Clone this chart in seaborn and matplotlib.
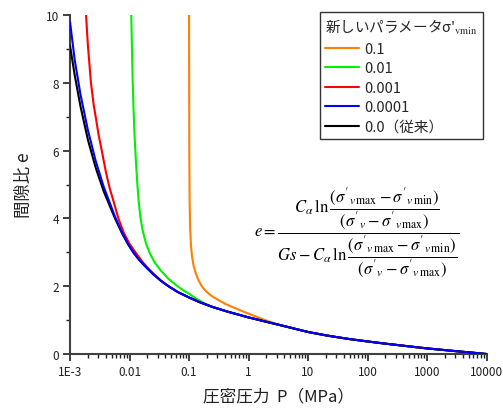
import numpy as np
import pandas as pd
import matplotlib
matplotlib.use("Agg")
import matplotlib.pyplot as plt
import matplotlib.ticker as mticker
import seaborn as sns

# ---- data ----
series_labels = ["0.1", "0.01", "0.001", "0.0001", "0.0（従来）"]
series_colors = ["#FF8000", "#00F000", "#FF0000", "#0000FF", "#000000"]

# shared tail (all curves coincide here)
p_tail = [5, 10, 20, 30, 50, 100, 200, 300, 500, 1000, 2000, 3000, 5000, 10000]
e_tail = [0.78, 0.65, 0.55, 0.50, 0.44, 0.37, 0.305, 0.27, 0.225, 0.165, 0.115, 0.085, 0.05, 0.0]

# sigma'vmin = 0.0 (conventional)
p_00 = [0.001, 0.0012, 0.0015, 0.002, 0.0027, 0.0037, 0.0057, 0.0075, 0.0095, 0.0116, 0.0145,
        0.0182, 0.025, 0.034, 0.045, 0.065, 0.096, 0.15, 0.25, 0.45, 1.0, 2.0, 3.0]
e_00 = [9.1, 8.225, 7.307, 6.32, 5.497, 4.792, 4.002, 3.559, 3.235, 2.996, 2.778,
        2.595, 2.354, 2.154, 2.002, 1.826, 1.682, 1.53, 1.386, 1.247, 1.08, 0.95, 0.875]

# sigma'vmin = 0.0001
p_0001 = [0.001, 0.0012, 0.0015, 0.002, 0.0027, 0.0037, 0.0057, 0.0075, 0.0095, 0.0116, 0.0145,
          0.0182, 0.025, 0.034, 0.045, 0.065, 0.096, 0.15, 0.25, 0.45, 1.0, 2.0, 3.0]
e_0001 = [9.8, 8.675, 7.657, 6.6, 5.697, 4.922, 4.052, 3.579, 3.235, 2.996, 2.778,
          2.595, 2.354, 2.154, 2.002, 1.826, 1.682, 1.53, 1.386, 1.247, 1.08, 0.95, 0.875]

# sigma'vmin = 0.001
p_001 = [0.00186, 0.002, 0.00225, 0.0025, 0.00273, 0.003, 0.0034, 0.004, 0.0046, 0.0055, 0.0065,
         0.008, 0.01, 0.0132, 0.0165, 0.02, 0.025, 0.034, 0.045, 0.065, 0.096, 0.15, 0.25,
         0.45, 1.0, 2.0, 3.0]
e_001 = [10.0, 9.1, 8.0, 7.35, 6.95, 6.5, 6.02, 5.38, 4.92, 4.45, 4.0,
         3.58, 3.25, 2.95, 2.72, 2.55, 2.38, 2.16, 2.002, 1.826, 1.682, 1.53, 1.386,
         1.247, 1.08, 0.95, 0.875]

# sigma'vmin = 0.01
p_01 = [0.0107, 0.011, 0.0113, 0.0117, 0.0122, 0.0128, 0.0135, 0.0142, 0.0152, 0.0166, 0.019,
        0.0222, 0.027, 0.034, 0.045, 0.06, 0.08, 0.1, 0.13, 0.17, 0.22, 0.25, 0.45, 1.0, 2.0, 3.0]
e_01 = [10.0, 9.0, 8.1, 7.2, 6.4, 5.7, 5.05, 4.55, 4.05, 3.65, 3.25,
        2.95, 2.68, 2.45, 2.22, 2.04, 1.88, 1.78, 1.64, 1.52, 1.43, 1.386, 1.247, 1.08, 0.95, 0.875]

# sigma'vmin = 0.1
p_1 = [0.1003, 0.1012, 0.1025, 0.1045, 0.108, 0.112, 0.119, 0.13, 0.144, 0.164, 0.195,
       0.245, 0.32, 0.43, 0.6, 0.82, 1.15, 1.6, 2.2, 3.0]
e_1 = [10.0, 6.0, 4.5, 3.7, 3.2, 2.9, 2.62, 2.38, 2.18, 2.0, 1.84,
       1.7, 1.58, 1.46, 1.35, 1.25, 1.15, 1.05, 0.96, 0.885]

x_ticks = [1e-3, 1e-2, 1e-1, 1, 10, 100, 1000, 10000]
x_ticklabels = ["1E-3", "0.01", "0.1", "1", "10", "100", "1000", "10000"]
y_ticks = [0, 2, 4, 6, 8, 10]

heads = {
    "0.1": (p_1, e_1),
    "0.01": (p_01, e_01),
    "0.001": (p_001, e_001),
    "0.0001": (p_0001, e_0001),
    "0.0（従来）": (p_00, e_00),
}
frames = []
for lab in series_labels:
    ph, eh = heads[lab]
    frames.append(pd.DataFrame({"P": list(ph) + p_tail, "e": list(eh) + e_tail, "s": lab}))
df = pd.concat(frames, ignore_index=True)

# ---- style ----
sns.set_theme(style="ticks")
plt.rcParams["font.family"] = ["Noto Sans CJK JP", "DejaVu Sans"]
plt.rcParams["mathtext.fontset"] = "stix"
plt.rcParams["axes.unicode_minus"] = False

fig = plt.figure(figsize=(5.03, 4.10), dpi=100)
ax = fig.add_axes([70 / 503, 1 - 355 / 410, (486.5 - 70) / 503, (355 - 16) / 410])

zorders = {"0.1": 3, "0.01": 3, "0.001": 3, "0.0001": 5, "0.0（従来）": 4}
for lab, col in zip(series_labels, series_colors):
    sub = df[df["s"] == lab]
    sns.lineplot(data=sub, x="P", y="e", ax=ax, color=col, lw=1.5, label=lab,
                 estimator=None, sort=False, zorder=zorders[lab])

ax.set_xscale("log")
ax.set_xlim(1e-3, 1e4)
ax.set_ylim(0, 10)
ax.xaxis.set_major_locator(mticker.FixedLocator(x_ticks))
ax.xaxis.set_major_formatter(mticker.FixedFormatter(x_ticklabels))
ax.xaxis.set_minor_locator(mticker.LogLocator(base=10, subs=np.arange(2, 10), numticks=20))
ax.xaxis.set_minor_formatter(mticker.NullFormatter())
ax.yaxis.set_major_locator(mticker.FixedLocator(y_ticks))
ax.yaxis.set_minor_locator(mticker.MultipleLocator(1))

for side in ["top", "right"]:
    ax.spines[side].set_visible(False)
for side in ["left", "bottom"]:
    ax.spines[side].set_color("#404040")
    ax.spines[side].set_linewidth(1.5)
ax.tick_params(which="major", direction="out", length=5, width=1.2, color="#202020",
               labelsize=8.5, labelcolor="#202020", pad=3)
ax.tick_params(which="minor", direction="out", length=3, width=1.0, color="#202020")

ax.set_xlabel("圧密圧力  P（MPa）", fontsize=12, labelpad=7, color="#202020")
ax.set_ylabel("間隙比 e", fontsize=12.5, labelpad=9, color="#202020")

leg = ax.legend(title="新しいパラメータσ'$_{\\rm vmin}$", loc="upper right",
                bbox_to_anchor=(483 / 503, 1 - 13 / 410), bbox_transform=fig.transFigure,
                borderaxespad=0, fontsize=10.5, title_fontsize=10.5, frameon=True,
                fancybox=False, edgecolor="black", handlelength=2.3, handletextpad=0.4,
                labelspacing=0.38, borderpad=0.35, alignment="left")
leg.get_frame().set_linewidth(1.0)
leg.set_zorder(10)

num = r"\left({\sigma^{\prime}}_{v\,\max}-{\sigma^{\prime}}_{v\,\min}\right)"
den = r"\left({\sigma^{\prime}}_{v}-{\sigma^{\prime}}_{v\,\max}\right)"
formula = (r"$e=\dfrac{C_{\alpha}\,\ln\dfrac{" + num + "}{" + den + "}}"
           r"{Gs-C_{\alpha}\,\ln\dfrac{" + num + "}{" + den + "}}$")
fig.text(357 / 503, 1 - 233 / 410, formula, fontsize=12, ha="center", va="center", color="black")

fig.savefig("out.png", dpi=100)
